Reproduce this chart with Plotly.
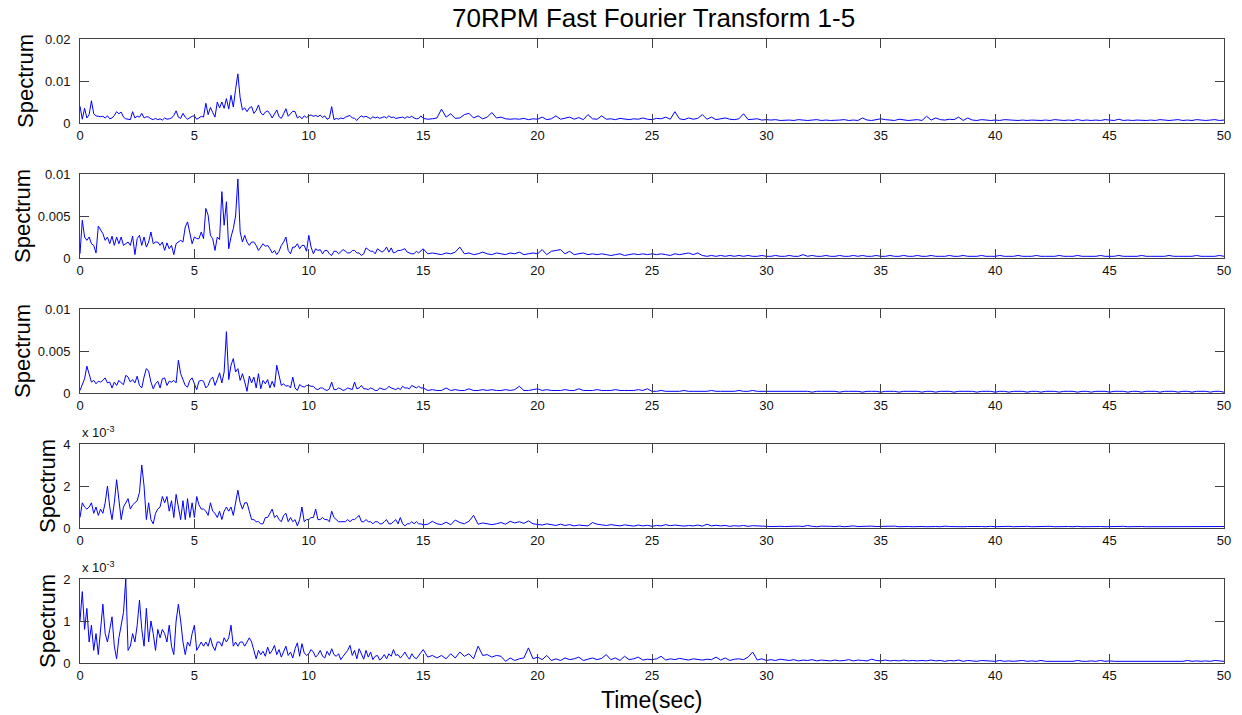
import numpy as np
import plotly.graph_objects as go
from plotly.subplots import make_subplots

# Frequency grid: 0.1 s steps up to 15 s, 0.2 s steps from 15 s to 50 s
t_fine = np.round(np.arange(0, 150) * 0.1, 1)
t_tail = np.round(15 + np.arange(0, 176) * 0.2, 1)

# Spectrum magnitudes, in units of 1e-4
spectrum_1_fine = [
    40, 9, 35, 12, 20, 53, 22, 17, 16, 15,
    16, 12, 17, 10, 12, 18, 27, 22, 26, 14,
    10, 9, 8, 27, 12, 16, 14, 23, 12, 15,
    14, 10, 8, 11, 8, 10, 7, 12, 9, 10,
    12, 18, 29, 14, 11, 23, 14, 9, 13, 16,
    17, 9, 12, 16, 14, 47, 20, 37, 25, 14,
    50, 36, 50, 35, 58, 33, 66, 38, 80, 117,
    60, 31, 36, 27, 36, 39, 23, 30, 43, 24,
    19, 26, 29, 22, 12, 20, 31, 15, 11, 22,
    34, 16, 21, 28, 27, 12, 16, 10, 17, 13,
    17, 19, 16, 18, 15, 19, 13, 17, 9, 12,
    39, 8, 11, 9, 12, 10, 14, 16, 18, 12,
    11, 6, 13, 17, 14, 16, 12, 10, 15, 12,
    14, 11, 13, 15, 12, 17, 13, 14, 11, 12,
    12, 14, 11, 15, 13, 16, 12, 10, 11, 17,
]
spectrum_1_tail = [
    11, 9, 10, 12, 33, 14, 22, 11, 12, 20,
    23, 12, 17, 10, 14, 25, 12, 14, 10, 9,
    10, 9, 11, 8, 10, 9, 14, 8, 10, 17,
    9, 11, 14, 9, 13, 8, 20, 10, 9, 17,
    9, 10, 8, 11, 9, 8, 10, 9, 12, 9,
    8, 11, 10, 14, 9, 27, 10, 8, 12, 9,
    11, 20, 9, 14, 8, 10, 12, 9, 8, 10,
    22, 8, 9, 10, 7, 8, 7, 8, 6, 7,
    7, 6, 8, 7, 6, 7, 8, 6, 7, 6,
    6, 7, 8, 6, 7, 6, 12, 7, 6, 8,
    10, 8, 7, 6, 9, 7, 6, 7, 8, 6,
    16, 7, 12, 8, 7, 9, 8, 14, 6, 12,
    7, 6, 8, 7, 6, 7, 6, 8, 7, 6,
    6, 7, 6, 7, 6, 6, 7, 6, 8, 7,
    6, 7, 6, 8, 6, 7, 6, 7, 6, 8,
    7, 6, 9, 6, 7, 6, 7, 6, 6, 7,
    6, 8, 7, 6, 7, 8, 6, 7, 6, 8,
    7, 6, 7, 8, 6, 7,
]

spectrum_2_fine = [
    5, 45, 25, 21, 25, 17, 15, 6, 38, 33,
    29, 21, 25, 17, 26, 15, 25, 17, 25, 15,
    17, 19, 15, 26, 4, 23, 27, 15, 25, 13,
    19, 31, 17, 19, 19, 15, 19, 9, 18, 11,
    15, 4, 17, 19, 21, 19, 37, 43, 31, 17,
    25, 23, 23, 31, 23, 59, 51, 27, 23, 9,
    25, 22, 79, 39, 67, 11, 25, 35, 50, 94,
    31, 19, 27, 19, 15, 19, 19, 15, 9, 13,
    17, 14, 15, 11, 6, 9, 4, 8, 15, 19,
    25, 9, 5, 13, 13, 17, 11, 15, 15, 8,
    27, 13, 5, 11, 9, 10, 5, 9, 9, 5,
    3, 8, 8, 5, 7, 10, 8, 6, 6, 9,
    9, 6, 6, 3, 5, 12, 10, 8, 8, 5,
    11, 9, 7, 9, 13, 7, 12, 6, 7, 9,
    9, 10, 11, 7, 6, 5, 5, 8, 6, 8,
]
spectrum_2_tail = [
    11, 5, 6, 5, 4, 6, 5, 7, 13, 5,
    6, 4, 5, 7, 5, 4, 6, 5, 4, 6,
    5, 7, 4, 5, 6, 5, 10, 4, 8, 9,
    10, 5, 8, 4, 5, 6, 4, 5, 4, 5,
    4, 3, 4, 5, 3, 4, 5, 4, 5, 4,
    5, 4, 5, 4, 3, 5, 4, 5, 6, 4,
    6, 3, 2, 3, 2, 3, 2, 3, 2, 3,
    2, 3, 2, 2, 3, 2, 2, 3, 2, 2,
    3, 2, 2, 4, 2, 3, 2, 2, 3, 2,
    2, 3, 2, 2, 3, 2, 3, 2, 2, 3,
    2, 2, 3, 2, 2, 3, 2, 2, 3, 2,
    2, 3, 2, 2, 2, 3, 2, 2, 3, 2,
    2, 2, 3, 2, 2, 2, 3, 2, 2, 2,
    3, 2, 2, 2, 3, 2, 2, 2, 2, 3,
    2, 2, 2, 3, 2, 2, 2, 2, 3, 2,
    2, 2, 3, 2, 2, 2, 2, 3, 2, 2,
    2, 2, 2, 3, 2, 2, 2, 2, 2, 3,
    2, 2, 2, 2, 3, 2,
]

spectrum_3_fine = [
    3, 9, 17, 32, 21, 13, 15, 11, 14, 13,
    15, 18, 12, 13, 6, 13, 9, 15, 12, 10,
    21, 19, 13, 16, 12, 20, 9, 6, 19, 29,
    26, 13, 5, 11, 14, 6, 17, 18, 9, 14,
    13, 15, 12, 39, 23, 15, 9, 7, 15, 18,
    12, 4, 14, 15, 14, 6, 9, 16, 19, 9,
    16, 24, 12, 25, 73, 16, 33, 41, 25, 29,
    15, 23, 13, 2, 20, 12, 19, 6, 23, 5,
    15, 11, 16, 6, 14, 7, 33, 21, 9, 11,
    8, 9, 6, 19, 6, 3, 10, 8, 7, 9,
    9, 8, 8, 5, 4, 6, 6, 4, 3, 5,
    13, 4, 4, 6, 5, 3, 4, 6, 5, 4,
    13, 5, 6, 9, 5, 5, 4, 6, 5, 3,
    3, 6, 5, 4, 5, 8, 6, 5, 4, 6,
    4, 8, 6, 6, 5, 9, 7, 6, 8, 6,
]
spectrum_3_tail = [
    6, 3, 4, 3, 3, 6, 3, 4, 3, 3,
    5, 3, 3, 4, 3, 4, 3, 3, 4, 3,
    4, 8, 3, 3, 4, 5, 3, 4, 3, 3,
    3, 4, 3, 3, 5, 3, 3, 3, 4, 3,
    3, 3, 4, 3, 3, 3, 3, 4, 3, 5,
    2, 2, 3, 2, 2, 2, 2, 3, 2, 2,
    2, 2, 2, 3, 2, 2, 2, 2, 2, 3,
    2, 2, 3, 2, 2, 2, 2, 2, 2, 2,
    2, 2, 2, 2, 2, 1, 2, 2, 2, 2,
    2, 1, 2, 2, 2, 2, 1, 2, 2, 2,
    1, 2, 2, 2, 1, 2, 2, 2, 2, 1,
    2, 2, 1, 2, 2, 2, 1, 2, 2, 2,
    2, 1, 2, 2, 2, 1, 2, 2, 1, 2,
    2, 2, 1, 2, 2, 1, 2, 2, 2, 1,
    2, 2, 2, 1, 2, 2, 1, 2, 2, 2,
    1, 2, 2, 2, 1, 2, 2, 1, 2, 2,
    2, 1, 2, 2, 2, 1, 2, 2, 1, 2,
    2, 2, 1, 2, 2, 1,
]

spectrum_4_fine = [
    5, 12, 10, 9, 10, 12, 7, 10, 6, 9,
    7, 12, 20, 10, 4, 12, 23, 13, 4, 10,
    12, 14, 9, 11, 12, 13, 17, 30, 20, 4,
    12, 4, 2, 7, 9, 10, 15, 12, 15, 8,
    13, 5, 16, 10, 4, 13, 4, 14, 5, 12,
    5, 15, 11, 9, 9, 8, 6, 12, 8, 7,
    5, 8, 4, 8, 10, 8, 10, 6, 13, 18,
    12, 9, 12, 12, 8, 4, 4, 3, 3, 2,
    2, 5, 5, 7, 9, 5, 6, 4, 3, 6,
    7, 3, 5, 3, 4, 1, 4, 10, 3, 4,
    4, 5, 5, 9, 4, 4, 5, 4, 4, 3,
    8, 5, 4, 3, 3, 3, 3, 4, 3, 4,
    4, 5, 6, 3, 3, 4, 3, 3, 2, 3,
    3, 2, 2, 3, 4, 2, 2, 3, 4, 2,
    5, 2, 1, 2, 2, 3, 2, 3, 2, 2,
]
spectrum_4_tail = [
    1.5, 1.8, 3.2, 2.0, 1.6, 2.8, 1.5, 3.8, 2.6, 2.0,
    3.2, 6.0, 1.8, 2.4, 1.9, 1.6, 2.0, 2.6, 1.8, 3.2,
    2.4, 3.0, 2.2, 3.4, 2.0, 1.6, 1.4, 2.0, 1.5, 1.2,
    1.8, 1.2, 1.6, 1.0, 1.4, 1.1, 1.0, 2.6, 1.8, 1.5,
    1.2, 1.6, 1.3, 1.0, 1.5, 1.1, 0.9, 1.4, 1.0, 1.3,
    0.8, 1.2, 1.0, 1.6, 1.1, 1.4, 1.0, 0.9, 1.2, 1.0,
    1.4, 0.9, 1.8, 1.0, 1.3, 1.0, 1.2, 0.8, 1.1, 0.9,
    1.2, 0.8, 1.1, 0.9, 1.0, 0.8, 0.7, 0.9, 0.8, 0.7,
    0.8, 0.6, 0.9, 0.7, 1.2, 0.8, 0.6, 0.9, 0.7, 0.8,
    0.7, 0.9, 0.6, 0.8, 1.0, 0.7, 0.8, 0.6, 0.9, 0.7,
    0.8, 0.6, 0.7, 0.9, 0.6, 0.8, 0.7, 0.6, 0.8, 0.7,
    0.6, 0.8, 0.7, 0.6, 0.9, 0.7, 0.6, 0.8, 0.6, 0.7,
    0.8, 0.6, 0.7, 0.6, 0.8, 0.6, 0.7, 0.6, 0.8, 0.6,
    0.7, 0.6, 0.8, 0.6, 0.7, 0.6, 0.6, 0.8, 0.6, 0.7,
    0.6, 0.7, 0.6, 0.8, 0.6, 0.7, 0.6, 0.6, 0.7, 0.6,
    0.7, 0.6, 0.6, 0.8, 0.6, 0.7, 0.6, 0.7, 0.6, 0.6,
    0.7, 0.6, 0.8, 0.6, 0.6, 0.7, 0.6, 0.7, 0.6, 0.8,
    0.6, 0.7, 0.6, 0.7, 0.6, 0.7,
]

spectrum_5_fine = [
    10, 17, 8, 13, 5, 9, 3, 7, 2, 8,
    14, 7, 5, 8, 11, 4, 1, 6, 9, 12,
    20, 3, 4, 7, 5, 9, 15, 8, 4, 13,
    5, 10, 7, 3, 8, 6, 8, 7, 5, 9,
    4, 2, 10, 14, 10, 5, 2, 5, 4, 7,
    9, 3, 4, 5, 4, 5, 4, 6, 4, 3,
    5, 5, 4, 6, 5, 6, 9, 4, 5, 4,
    5, 5, 4, 5, 6, 5, 3, 1, 3, 2,
    2.8, 1.6, 3.8, 2.2, 3.0, 4.2, 2.0, 3.2, 1.4, 2.8,
    4.0, 1.8, 2.6, 1.2, 3.4, 4.8, 1.6, 4.6, 2.4, 1.8,
    2.2, 3.2, 2.6, 1.4, 2.0, 3.0, 1.6, 1.2, 2.8, 1.8,
    3.4, 2.0, 1.6, 2.2, 0.8, 1.6, 2.4, 3.0, 4.2, 1.8,
    3.0, 1.0, 3.4, 2.0, 0.9, 3.0, 1.4, 2.6, 0.8, 1.6,
    1.8, 0.7, 1.2, 2.0, 1.0, 2.2, 1.6, 3.2, 1.8, 2.0,
    1.2, 1.8, 2.6, 1.6, 0.9, 2.2, 1.4, 1.0, 1.8, 2.4,
]
spectrum_5_tail = [
    3.2, 1.4, 1.8, 1.2, 1.8, 1.0, 2.2, 1.2, 2.6, 1.6,
    2.2, 1.0, 4.0, 1.8, 2.0, 1.4, 1.8, 1.6, 0.4, 1.2,
    0.6, 1.0, 1.2, 3.6, 1.0, 1.4, 0.8, 1.8, 0.6, 1.0,
    0.6, 1.2, 0.8, 1.0, 1.4, 0.6, 0.9, 1.2, 0.8, 1.1,
    2.0, 0.8, 1.2, 0.6, 1.6, 0.8, 1.0, 1.4, 0.7, 0.9,
    0.8, 1.0, 1.6, 0.7, 1.0, 0.8, 1.1, 0.9, 0.7, 1.0,
    0.8, 0.7, 0.9, 0.8, 1.4, 0.7, 1.2, 0.6, 0.9, 1.0,
    0.8, 1.4, 2.6, 0.7, 1.0, 0.6, 0.8, 0.6, 0.9, 0.7,
    0.6, 0.8, 0.5, 0.7, 0.6, 0.8, 0.5, 0.7, 0.6, 0.5,
    0.7, 0.5, 0.6, 0.8, 0.5, 0.7, 0.6, 0.5, 0.9, 0.6,
    0.5, 0.7, 0.5, 0.6, 0.5, 0.7, 0.5, 0.6, 0.5, 0.6,
    0.5, 0.7, 0.5, 0.6, 0.4, 0.6, 0.5, 0.7, 0.4, 0.6,
    0.5, 0.4, 0.6, 0.5, 0.4, 0.4, 0.6, 0.4, 0.5, 0.4,
    0.5, 0.6, 0.4, 0.5, 0.4, 0.6, 0.4, 0.4, 0.5, 0.4,
    0.4, 0.5, 0.4, 0.6, 0.4, 0.4, 0.5, 0.4, 0.6, 0.4,
    0.5, 0.4, 0.4, 0.5, 0.4, 0.4, 0.4, 0.5, 0.4, 0.4,
    0.4, 0.5, 0.4, 0.4, 0.5, 0.4, 0.4, 0.6, 0.4, 0.5,
    0.4, 0.5, 0.4, 0.6, 0.5, 0.4,
]

x_ticks = [0, 5, 10, 15, 20, 25, 30, 35, 40, 45, 50]

# (fine, tail, multiplier to plotted units, y range, tick values, tick text, exponent note)
panels = [
    (spectrum_1_fine, spectrum_1_tail, 1e-4, [0, 0.02], [0, 0.01, 0.02], ["0", "0.01", "0.02"], False),
    (spectrum_2_fine, spectrum_2_tail, 1e-4, [0, 0.01], [0, 0.005, 0.01], ["0", "0.005", "0.01"], False),
    (spectrum_3_fine, spectrum_3_tail, 1e-4, [0, 0.01], [0, 0.005, 0.01], ["0", "0.005", "0.01"], False),
    (spectrum_4_fine, spectrum_4_tail, 0.1, [0, 4], [0, 2, 4], ["0", "2", "4"], True),
    (spectrum_5_fine, spectrum_5_tail, 0.1, [0, 2], [0, 1, 2], ["0", "1", "2"], True),
]

W, H = 1242, 715
L, R = 80, 1224
box_px = [(39, 123), (174, 258), (309, 393), (444, 528), (579, 663)]
ylabel_x_px = [26, 22, 22, 47, 47]

FONT = "Liberation Sans, Arial, Helvetica, sans-serif"
AXIS_COLOR = "#404040"
TICK_FONT = dict(family=FONT, size=13, color="#111")
LABEL_FONT = dict(family=FONT, size=22, color="#000")


def px_x(px):
    return (px - L) / (R - L)


def px_y(py):
    return 1 - py / H


fig = make_subplots(rows=5, cols=1)
annotations = []

for i, (fine, tail, mult, yr, tv, tt, expo) in enumerate(panels, start=1):
    assert len(fine) == len(t_fine) and len(tail) == len(t_tail)
    t = np.concatenate([t_fine, t_tail])
    y = np.concatenate([np.asarray(fine, float), np.asarray(tail, float)]) * mult
    fig.add_trace(
        go.Scatter(x=t, y=y, mode="lines",
                   line=dict(color="#0000ff", width=1),
                   showlegend=False, hoverinfo="skip"),
        row=i, col=1,
    )
    top, bot = box_px[i - 1]
    fig.update_yaxes(
        row=i, col=1,
        domain=[px_y(bot), px_y(top)],
        range=yr, tickvals=tv, ticktext=tt,
        ticks="inside", ticklen=9, tickcolor=AXIS_COLOR,
        showline=True, linecolor=AXIS_COLOR, linewidth=1, mirror="allticks",
        showgrid=False, zeroline=False, automargin=False,
        tickfont=TICK_FONT, ticklabelstandoff=6,
    )
    fig.update_xaxes(
        row=i, col=1,
        domain=[0, 1],
        range=[0, 50], tickvals=x_ticks, ticktext=[str(v) for v in x_ticks],
        ticks="inside", ticklen=9, tickcolor=AXIS_COLOR,
        showline=True, linecolor=AXIS_COLOR, linewidth=1, mirror="allticks",
        showgrid=False, zeroline=False, automargin=False,
        tickfont=TICK_FONT,
    )
    # rotated y-axis label
    annotations.append(dict(
        text="Spectrum", x=px_x(ylabel_x_px[i - 1]), y=px_y((top + bot) / 2),
        xref="paper", yref="paper", xanchor="center", yanchor="middle",
        textangle=-90, showarrow=False, font=LABEL_FONT,
    ))
    if expo:
        annotations.append(dict(
            text="x 10<sup>-3</sup>", x=0, y=px_y(top - 2),
            xref="paper", yref="paper", xanchor="left", yanchor="bottom",
            showarrow=False, font=TICK_FONT,
        ))

annotations.append(dict(
    text="70RPM Fast Fourier Transform 1-5", x=px_x(653), y=px_y(18),
    xref="paper", yref="paper", xanchor="center", yanchor="middle",
    showarrow=False, font=dict(family=FONT, size=26, color="#000"),
))
annotations.append(dict(
    text="Time(sec)", x=px_x(651), y=px_y(700),
    xref="paper", yref="paper", xanchor="center", yanchor="middle",
    showarrow=False, font=dict(family=FONT, size=23, color="#000"),
))

fig.update_layout(
    width=W, height=H,
    margin=dict(l=L, r=W - R, t=0, b=0),
    paper_bgcolor="white", plot_bgcolor="white",
    annotations=annotations,
)

fig.write_html("out.html")
